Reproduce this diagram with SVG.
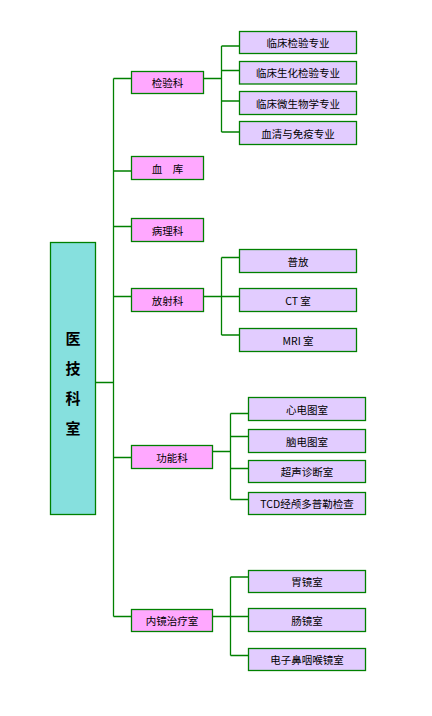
<svg xmlns="http://www.w3.org/2000/svg" width="432" height="716" viewBox="0 0 432 716">
<style>
.c{fill:none;stroke:#008000;stroke-width:1.3}
.r{fill:#86E0DE;stroke:#008000;stroke-width:1.3}
.p{fill:#FFA8FF;stroke:#008000;stroke-width:1.3}
.l{fill:#E2CCFF;stroke:#008000;stroke-width:1.3}
text{font-family:"Noto Sans CJK SC","Liberation Sans",sans-serif;font-size:10.5px;fill:#000;text-anchor:middle;dominant-baseline:central}
.big{font-size:15px;font-weight:bold}
</style>
<rect width="432" height="716" fill="#fff"/>
<g id="connectors">
<path class="c" d="M95.5 382.5H113.5M113.5 78.5V616.5M113.5 78.5H131.5M113.5 171H131.5M113.5 226.5H131.5M113.5 296.5H131.5M113.5 457.5H131.5M113.5 616.5H131.5"/>
<path class="c" d="M203.5 78.5H221.5M221.5 46V132M221.5 46H239.5M221.5 70.5H239.5M221.5 101H239.5M221.5 132H239.5"/>
<path class="c" d="M203.5 296.5H239.5M221.5 257.5V335M221.5 257.5H239.5M221.5 335H239.5"/>
<path class="c" d="M212.5 451.5H230.5M230.5 413.5V499.5M230.5 413.5H248.5M230.5 436.5H248.5M230.5 468.5H248.5M230.5 499.5H248.5"/>
<path class="c" d="M212.5 616.5H248.5M230.5 577V655.5M230.5 577H248.5M230.5 655.5H248.5"/>
</g>
<g id="root"><rect class="r" x="50.5" y="242.5" width="45" height="272"/>
<text class="big" x="73" y="337">医</text><text class="big" x="73" y="367">技</text><text class="big" x="73" y="397">科</text><text class="big" x="73" y="427">室</text></g>
<g id="n1"><rect class="p" x="131.5" y="71.5" width="72" height="22"/><text x="167.5" y="82.5">检验科</text></g>
<g id="n2"><rect class="p" x="131.5" y="156.5" width="72" height="23"/><text x="167.5" y="168" xml:space="preserve">血　库</text></g>
<g id="n3"><rect class="p" x="131.5" y="218.5" width="72" height="23"/><text x="167.5" y="230">病理科</text></g>
<g id="n4"><rect class="p" x="131.5" y="288.5" width="72" height="23"/><text x="167.5" y="300">放射科</text></g>
<g id="n5"><rect class="p" x="131.5" y="445.5" width="81" height="23"/><text x="172" y="457">功能科</text></g>
<g id="n6"><rect class="p" x="131.5" y="609.5" width="81" height="22"/><text x="172" y="620.5">内镜治疗室</text></g>
<g id="s1"><rect class="l" x="239.5" y="31.5" width="117" height="22"/><text x="298" y="42.5">临床检验专业</text></g>
<g id="s2"><rect class="l" x="239.5" y="61.5" width="117" height="22.5"/><text x="298" y="72.8">临床生化检验专业</text></g>
<g id="s3"><rect class="l" x="239.5" y="91.5" width="117" height="23"/><text x="298" y="103">临床微生物学专业</text></g>
<g id="s4"><rect class="l" x="239.5" y="121.5" width="117" height="23"/><text x="298" y="133">血清与免疫专业</text></g>
<g id="s5"><rect class="l" x="239.5" y="249.5" width="117" height="23"/><text x="298" y="261">普放</text></g>
<g id="s6"><rect class="l" x="239.5" y="288.5" width="117" height="23"/><text x="298" y="300">CT 室</text></g>
<g id="s7"><rect class="l" x="239.5" y="328.5" width="117" height="23"/><text x="298" y="340">MRI 室</text></g>
<g id="s8"><rect class="l" x="248.5" y="397.5" width="117" height="23"/><text x="307" y="409">心电图室</text></g>
<g id="s9"><rect class="l" x="248.5" y="429.5" width="117" height="23"/><text x="307" y="441">脑电图室</text></g>
<g id="s10"><rect class="l" x="248.5" y="460.5" width="117" height="22"/><text x="307" y="471.5">超声诊断室</text></g>
<g id="s11"><rect class="l" x="248.5" y="492.5" width="117" height="22"/><text x="307" y="503.5">TCD经颅多普勒检查</text></g>
<g id="s12"><rect class="l" x="248.5" y="570.5" width="117" height="22"/><text x="307" y="581.5">胃镜室</text></g>
<g id="s13"><rect class="l" x="248.5" y="608.5" width="117" height="23"/><text x="307" y="620">肠镜室</text></g>
<g id="s14"><rect class="l" x="248.5" y="648.5" width="117" height="22"/><text x="307" y="659.5">电子鼻咽喉镜室</text></g>
</svg>
